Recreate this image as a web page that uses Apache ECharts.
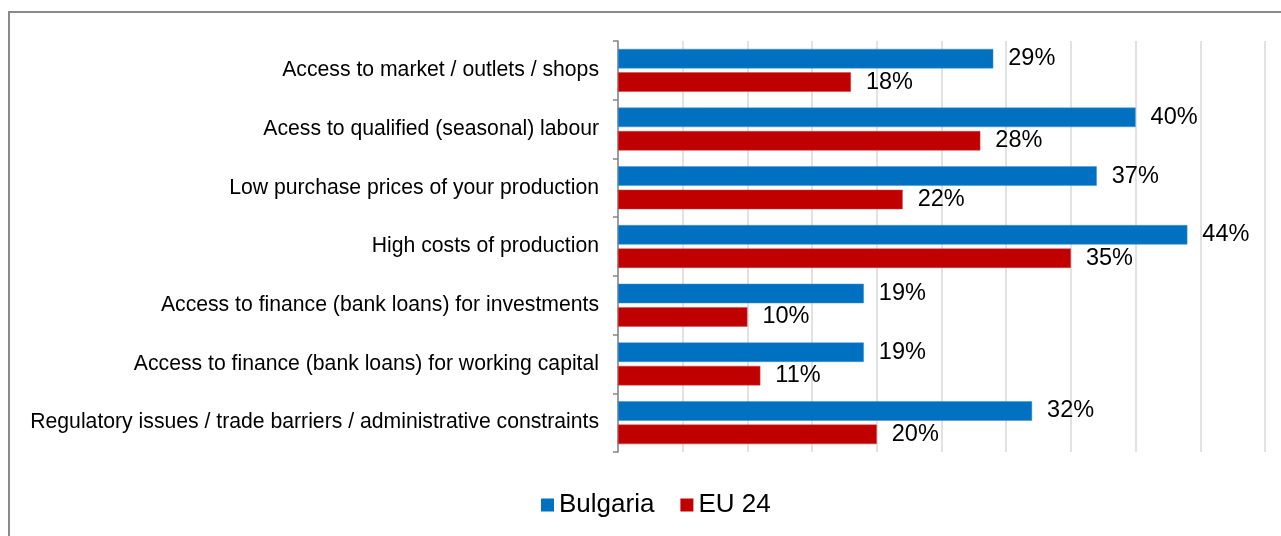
<!DOCTYPE html>
<html>
<head>
<meta charset="utf-8">
<style>
  html, body { margin: 0; padding: 0; background: #fff; }
  #chart { width: 1281px; height: 536px; }
</style>
<script src="https://cdn.jsdelivr.net/npm/echarts@6/dist/echarts.min.js"></script>
</head>
<body>
<div id="chart"></div>
<script>
// Obstacles reported by farmers, share of respondents (%)
const categories = [
  'Access to market / outlets / shops',
  'Acess to qualified (seasonal) labour',
  'Low purchase prices of your production',
  'High costs of production',
  'Access to finance (bank loans) for investments',
  'Access to finance (bank loans) for working capital',
  'Regulatory issues / trade barriers / administrative constraints'
];
const bulgaria = [29, 40, 37, 44, 19, 19, 32];
const eu24 = [18, 28, 22, 35, 10, 11, 20];
const seriesNames = ['Bulgaria', 'EU 24'];

const FONT = "'Liberation Sans', Arial, sans-serif";
const chart = echarts.init(document.getElementById('chart'), null, { renderer: 'canvas' });

const valueLabel = {
  show: true,
  position: 'right',
  distance: 15,
  formatter: '{c}%',
  color: '#000',
  fontFamily: FONT,
  fontSize: 23.5
};

chart.setOption({
  animation: false,
  backgroundColor: '#fff',
  graphic: [{
    type: 'rect',
    shape: { x: 9, y: 12, width: 1400, height: 700 },
    style: { fill: 'none', stroke: '#8a8a8a', lineWidth: 2 },
    silent: true
  }],
  legend: {
    data: seriesNames,
    left: 536,
    top: 487,
    itemWidth: 13,
    itemHeight: 13,
    itemGap: 26,
    icon: 'rect',
    itemStyle: { borderWidth: 0 },
    textStyle: { fontFamily: FONT, fontSize: 26, color: '#000' }
  },
  grid: { left: 618, right: 16, top: 41, bottom: 84, containLabel: false },
  xAxis: {
    type: 'value',
    min: 0,
    max: 50,
    interval: 5,
    axisLine: { show: false },
    axisTick: { show: false },
    axisLabel: { show: false },
    splitLine: { show: true, lineStyle: { color: '#d9d9d9', width: 1.5 } }
  },
  yAxis: {
    type: 'category',
    data: categories,
    inverse: true,
    axisLine: { show: true, lineStyle: { color: '#868686', width: 1.5 } },
    axisTick: { show: true, length: 5, lineStyle: { color: '#868686', width: 1.5 } },
    axisLabel: { margin: 19, color: '#000', fontFamily: FONT, fontSize: 21.2 }
  },
  series: [
    {
      name: seriesNames[0],
      type: 'bar',
      data: bulgaria,
      barWidth: 19.5,
      barGap: '20%',
      itemStyle: { color: '#0070C0', borderColor: '#3f93d3', borderWidth: 0.5 },
      label: valueLabel
    },
    {
      name: seriesNames[1],
      type: 'bar',
      data: eu24,
      barWidth: 19.5,
      barGap: '20%',
      itemStyle: { color: '#C00000', borderColor: '#d24040', borderWidth: 0.5 },
      label: valueLabel
    }
  ]
});
</script>
</body>
</html>
